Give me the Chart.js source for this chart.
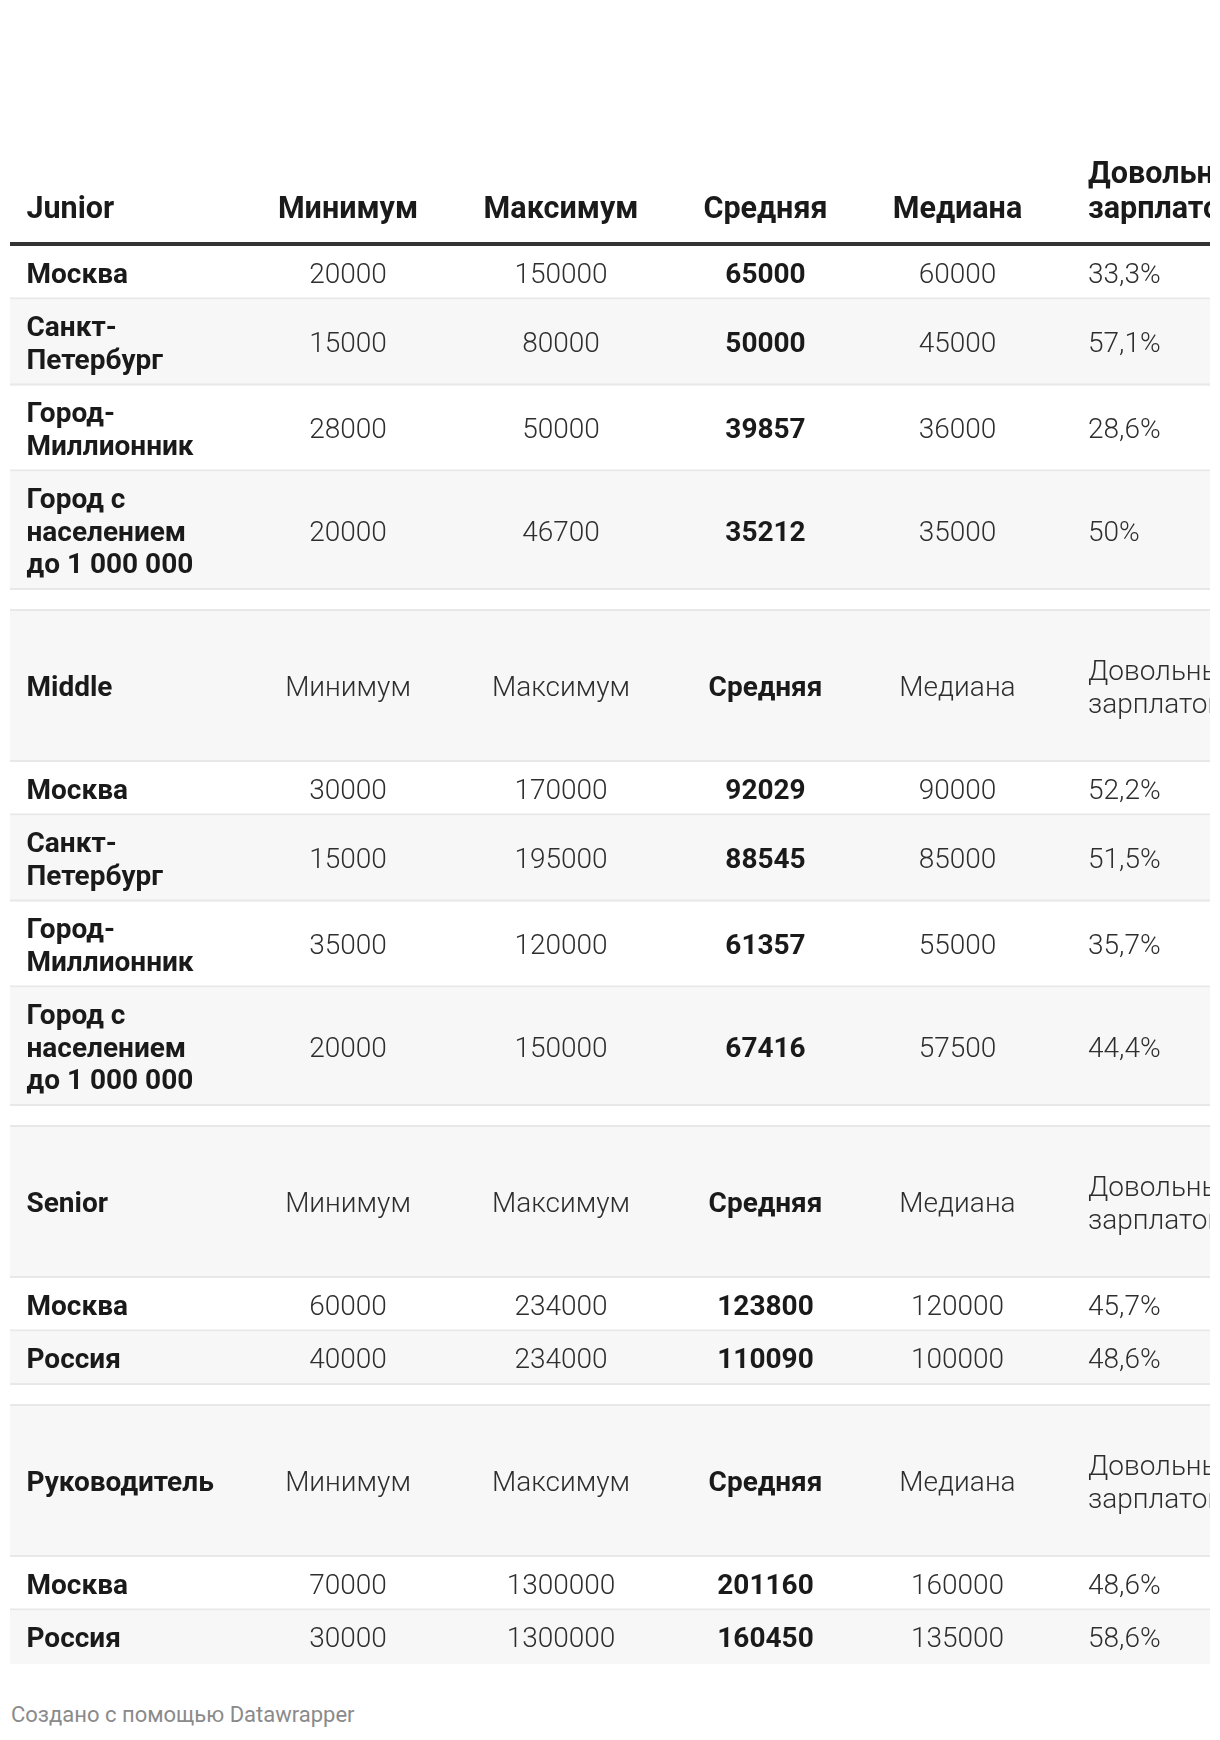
<!DOCTYPE html>
<html lang="ru">
<head>
<meta charset="utf-8">
<title>Зарплаты по уровням</title>
<script src="https://cdn.jsdelivr.net/npm/chart.js@4.4.1/dist/chart.umd.min.js"></script>
<style>
  html, body { margin: 0; padding: 0; background: #fff; }
  #contenedor { position: relative; width: 1220px; height: 1740px; }
  #tabla { position: absolute; left: 0; top: 0; }
  #pie {
    position: absolute; left: 11px; top: 1702px;
    font: 400 22px Roboto, sans-serif; color: #8a8a8a;
  }
</style>
</head>
<body>
<div id="contenedor">
  <canvas id="tabla" width="1220" height="1690"></canvas>
  <div id="pie">Создано с помощью Datawrapper</div>
</div>
<script>
// Datos de la tabla
const cabeceras = ["Минимум", "Максимум", "Средняя", "Медиана", "Довольны зарплатой"];
const niveles = ["Junior", "Middle", "Senior", "Руководитель"];

const ciudadesJunior = ["Москва", "Санкт-Петербург", "Город-Миллионник", "Город с населением до 1 000 000"];
const minimoJunior = [20000, 15000, 28000, 20000];
const maximoJunior = [150000, 80000, 50000, 46700];
const mediaJunior = [65000, 50000, 39857, 35212];
const medianaJunior = [60000, 45000, 36000, 35000];
const contentosJunior = [33.3, 57.1, 28.6, 50];

const ciudadesMiddle = ["Москва", "Санкт-Петербург", "Город-Миллионник", "Город с населением до 1 000 000"];
const minimoMiddle = [30000, 15000, 35000, 20000];
const maximoMiddle = [170000, 195000, 120000, 150000];
const mediaMiddle = [92029, 88545, 61357, 67416];
const medianaMiddle = [90000, 85000, 55000, 57500];
const contentosMiddle = [52.2, 51.5, 35.7, 44.4];

const ciudadesSenior = ["Москва", "Россия"];
const minimoSenior = [60000, 40000];
const maximoSenior = [234000, 234000];
const mediaSenior = [123800, 110090];
const medianaSenior = [120000, 100000];
const contentosSenior = [45.7, 48.6];

const ciudadesJefe = ["Москва", "Россия"];
const minimoJefe = [70000, 30000];
const maximoJefe = [1300000, 1300000];
const mediaJefe = [201160, 160450];
const medianaJefe = [160000, 135000];
const contentosJefe = [48.6, 58.6];

// Estilo y medidas
const ANCHO = 1220;
const ALTO = 1690;
const TABLA_IZQ = 10;
const TABLA_DER = 1210;
const COLUMNAS_X = [26.5, 348, 561, 765.5, 957.5, 1088];
const ALINEACION = ["left", "center", "center", "center", "center", "left"];
const ANCHO_TEXTO = [185, 200, 200, 200, 200, 150];
const COLUMNAS_NEGRITA = [0, 3];
const TAM_FUENTE = 28;
const ALTO_LINEA = 32.5;
const TAM_CABECERA = 30.5;
const ALTO_LINEA_CABECERA = 35.5;
const RELLENO = 10.5;
const LINEAS_SECCION = 4;
const LINEA_GRUESA_Y = 242;
const GROSOR_GRUESA = 4;
const COLOR_NEGRITA = "#1a1a1a";
const COLOR_LIGERO = "#2e2e2e";
const COLOR_FRANJA = "#f7f7f7";
const COLOR_BORDE = "#e8e8e8";

function formatoPorcentaje(valor) {
  return String(valor).replace(".", ",") + "%";
}

// Armamos las filas a partir de los arrays
const bloques = [
  [ciudadesJunior, minimoJunior, maximoJunior, mediaJunior, medianaJunior, contentosJunior],
  [ciudadesMiddle, minimoMiddle, maximoMiddle, mediaMiddle, medianaMiddle, contentosMiddle],
  [ciudadesSenior, minimoSenior, maximoSenior, mediaSenior, medianaSenior, contentosSenior],
  [ciudadesJefe, minimoJefe, maximoJefe, mediaJefe, medianaJefe, contentosJefe],
];

const cabeceraPrincipal = [niveles[0], ...cabeceras];
const filas = [];
bloques.forEach((bloque, i) => {
  if (i > 0) {
    filas.push({ tipo: "hueco", celdas: [] });
    filas.push({ tipo: "seccion", celdas: [niveles[i], ...cabeceras] });
  }
  const [ciudades, minimo, maximo, media, mediana, contentos] = bloque;
  ciudades.forEach((ciudad, j) => {
    filas.push({
      tipo: "dato",
      celdas: [ciudad, String(minimo[j]), String(maximo[j]), String(media[j]), String(mediana[j]), formatoPorcentaje(contentos[j])],
    });
  });
});

function fuente(negrita, tam) {
  return (negrita ? "700 " : "300 ") + tam + "px Roboto";
}

function partirTexto(ctx, texto, anchoMax) {
  const piezas = String(texto).match(/[^\s-]+-?|-/g) || [""];
  const lineas = [];
  let actual = "";
  piezas.forEach((pieza) => {
    const sep = actual === "" || actual.endsWith("-") ? "" : " ";
    const prueba = actual + sep + pieza;
    if (actual !== "" && ctx.measureText(prueba).width > anchoMax) {
      lineas.push(actual);
      actual = pieza;
    } else {
      actual = prueba;
    }
  });
  lineas.push(actual);
  return lineas;
}

// Dibuja una celda de varias lineas, la primera centrada en yPrimeraLinea
function dibujarCelda(chart, col, yPrimeraLinea, negrita, lineas, tam, altoLinea) {
  const ctx = chart.ctx;
  const sx = chart.scales.x;
  const sy = chart.scales.y;
  ctx.font = fuente(negrita, tam);
  ctx.fillStyle = negrita ? COLOR_NEGRITA : COLOR_LIGERO;
  ctx.textAlign = ALINEACION[col];
  ctx.textBaseline = "alphabetic";
  lineas.forEach((linea, k) => {
    const yc = yPrimeraLinea + k * altoLinea;
    ctx.fillText(linea, sx.getPixelForValue(COLUMNAS_X[col]), sy.getPixelForValue(yc) + tam * 0.355);
  });
}

function lineasDeCelda(ctx, texto, col, negrita, tam) {
  ctx.font = fuente(negrita, tam);
  return partirTexto(ctx, texto, ANCHO_TEXTO[col] * tam / TAM_FUENTE);
}

const pluginTabla = {
  id: "tablaSalarios",
  beforeDatasetsDraw(chart) {
    const ctx = chart.ctx;
    const sx = chart.scales.x;
    const sy = chart.scales.y;
    const izq = sx.getPixelForValue(TABLA_IZQ);
    const der = sx.getPixelForValue(TABLA_DER);

    ctx.save();
    ctx.beginPath();
    ctx.rect(izq, 0, der - izq, chart.height);
    ctx.clip();

    // Cabecera principal, texto alineado abajo
    const ultimaLinea = LINEA_GRUESA_Y - 34.5;
    cabeceraPrincipal.forEach((texto, col) => {
      const lineas = lineasDeCelda(ctx, texto, col, true, TAM_CABECERA);
      const primera = ultimaLinea - (lineas.length - 1) * ALTO_LINEA_CABECERA;
      dibujarCelda(chart, col, primera, true, lineas, TAM_CABECERA, ALTO_LINEA_CABECERA);
    });
    ctx.fillStyle = "#333";
    const yG1 = sy.getPixelForValue(LINEA_GRUESA_Y);
    const yG2 = sy.getPixelForValue(LINEA_GRUESA_Y + GROSOR_GRUESA);
    ctx.fillRect(izq, yG1, der - izq, yG2 - yG1);

    // Filas
    let y = LINEA_GRUESA_Y + GROSOR_GRUESA;
    filas.forEach((fila, i) => {
      const negritas = fila.celdas.map((_, col) => COLUMNAS_NEGRITA.includes(col));
      const lineasCeldas = fila.celdas.map((texto, col) => lineasDeCelda(ctx, texto, col, negritas[col], TAM_FUENTE));
      let nLineas = 0;
      if (fila.tipo === "seccion") nLineas = LINEAS_SECCION;
      else if (fila.tipo === "dato") nLineas = Math.max(...lineasCeldas.map((l) => l.length));
      const alto = nLineas * ALTO_LINEA + 2 * RELLENO;
      const yTop = sy.getPixelForValue(y);
      const yBot = sy.getPixelForValue(y + alto);

      if (i % 2 === 1) {
        ctx.fillStyle = COLOR_FRANJA;
        ctx.fillRect(izq, yTop, der - izq, yBot - yTop);
      }
      if (i < filas.length - 1) {
        ctx.fillStyle = COLOR_BORDE;
        ctx.fillRect(izq, yBot - 2, der - izq, 2);
      }

      const centro = y + alto / 2;
      fila.celdas.forEach((texto, col) => {
        const lineas = lineasCeldas[col];
        const primera = centro - (lineas.length - 1) * ALTO_LINEA / 2;
        dibujarCelda(chart, col, primera, negritas[col], lineas, TAM_FUENTE, ALTO_LINEA);
      });
      y += alto;
    });
    ctx.restore();
  },
};

const ctx = document.getElementById("tabla");
const Tabla = new Chart(ctx, {
  type: "scatter",
  data: { datasets: [{ data: [], pointRadius: 0 }] },
  options: {
    responsive: false,
    animation: false,
    events: [],
    layout: { padding: 0 },
    plugins: { legend: { display: false }, tooltip: { enabled: false } },
    scales: {
      x: { type: "linear", min: 0, max: ANCHO, display: false },
      y: { type: "linear", min: 0, max: ALTO, reverse: true, display: false },
    },
  },
  plugins: [pluginTabla],
});

// Redibujamos cuando las fuentes esten listas
Promise.all([
  document.fonts.load("300 28px Roboto"),
  document.fonts.load("700 28px Roboto"),
]).then(() => Tabla.draw());
</script>
</body>
</html>
